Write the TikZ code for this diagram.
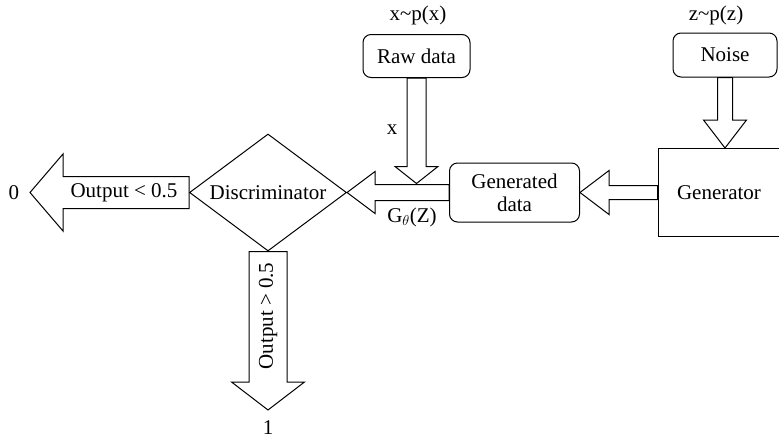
\documentclass[tikz,border=0pt]{standalone}
\usepackage{fontspec}
\setmainfont{Liberation Serif}
\usetikzlibrary{positioning}
\usetikzlibrary{calc}
\usetikzlibrary{shapes.geometric}

% hollow block arrow: from, to, half shaft, half head, head length
\newcommand{\fatarrow}[5]{%
 \draw[fatarr]($(#1)!#3!90:(#2)$)--($(#2)!#5!(#1)!#3!90:(#2)$)--($(#2)!#5!(#1)!#4!90:(#2)$)--(#2)
  --($(#2)!#5!(#1)!#4!-90:(#2)$)--($(#2)!#5!(#1)!#3!-90:(#2)$)--($(#1)!#3!-90:(#2)$)--cycle;}

\begin{document}
\begin{tikzpicture}[x=1pt,y=-1pt,
 every node/.style={font=\fontsize{21}{23}\selectfont},
 rbox/.style={draw,line width=1pt,rounded corners=8pt,inner sep=0pt},
 sbox/.style={draw,line width=1pt,inner sep=0pt},
 fatarr/.style={draw,line width=1pt,line join=miter},
 lbl/.style={inner sep=0pt}]
 \useasboundingbox (0,0) rectangle (779,439);
 % boxes
 \node[lbl] (pxlbl) at (418,15) {x\textasciitilde p(x)};
 \node[rbox,minimum width=107pt,minimum height=43pt] (raw) at (416.5,56) {Raw data};
 \node[lbl] (pzlbl) at (716,15) {z\textasciitilde p(z)};
 \node[rbox,minimum width=104pt,minimum height=44pt] (noise) at (725,55) {Noise};
 \node[rbox,minimum width=130pt,minimum height=59pt,align=center] (gdata) at (514.5,192.5) {Generated\\data};
 \node[sbox,minimum width=122pt,minimum height=88pt] (gen) at (719,192.5) {Generator};
 \node[diamond,aspect=1.34,draw,line width=1pt,minimum width=157pt,minimum height=117pt,inner sep=0pt] (disc) at (268,192.5) {Discriminator};
 % arrow ends
 \coordinate (ntip) at (noise.south |- gen.north);
 \coordinate (xtip) at ($(raw.south |- gdata.west)+(0,-9)$);
 \coordinate (out0) at (30,192.5);
 \coordinate (out1) at (268,410);
 % arrows
 \fatarrow{noise.south}{ntip}{7.5pt}{21.5pt}{28pt}
 \fatarrow{raw.south}{xtip}{9.5pt}{21.5pt}{17pt}
 \fatarrow{gen.west}{gdata.east}{7pt}{22pt}{29pt}
 \fatarrow{gdata.west}{disc.east}{8pt}{21pt}{28pt}
 \fatarrow{disc.west}{out0}{16pt}{38.5pt}{33pt}
 \fatarrow{disc.south}{out1}{19pt}{36.5pt}{28pt}
 % labels
 \node[lbl] (lowlbl) at (124,192.5) {Output < 0.5};
 \node[lbl,rotate=90] (highlbl) at (268,316) {Output > 0.5};
 \node[lbl] (zero) at (14,192.5) {0};
 \node[lbl] (one) at (268,428) {1};
 \node[lbl] (xlbl) at (392,130) {x};
 \node[lbl] (glbl) at (412,217) {G$_\theta$(Z)};
\end{tikzpicture}
\end{document}
